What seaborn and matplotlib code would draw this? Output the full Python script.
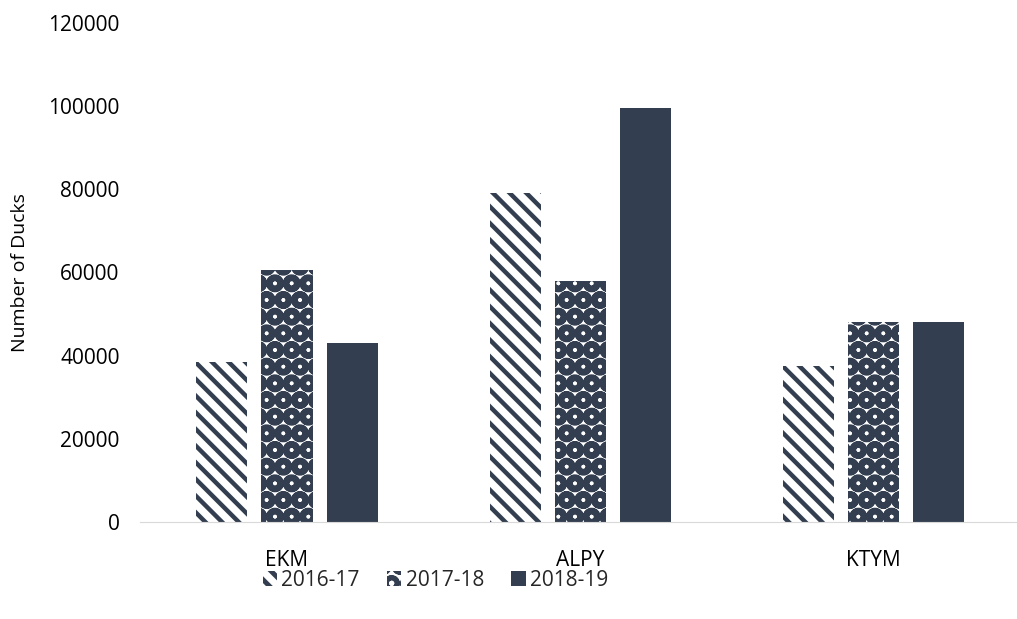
import pandas as pd
import matplotlib.pyplot as plt
import seaborn as sns
from matplotlib.patches import Patch

# Values
districts = ['EKM', 'ALPY', 'KTYM']
seasons = ['2016-17', '2017-18', '2018-19']
ducks_2016_17 = [38500, 79000, 37500]
ducks_2017_18 = [60500, 58000, 48000]
ducks_2018_19 = [43000, 99500, 48000]

data = pd.DataFrame({
    'District': districts * 3,
    'Season': [s for s in seasons for _ in districts],
    'Ducks': ducks_2016_17 + ducks_2017_18 + ducks_2018_19,
})

sns.set_style('white')
plt.rcParams['font.family'] = ['Open Sans', 'DejaVu Sans']
plt.rcParams['hatch.linewidth'] = 3.5

dark = '#333f50'
fig = plt.figure(figsize=(10.17, 6.19), dpi=100)
ax = fig.add_axes([0.138, 0.157, 0.865, 0.806])

sns.barplot(data=data, x='District', y='Ducks', hue='Season', order=districts,
            hue_order=seasons, palette=[dark] * 3, width=0.666, gap=0.215,
            ax=ax, legend=False)

# pattern fills like the original (stripes, dots, solid)
hatches = ['\\\\', 'O', '']
hatch_lw = [3.2, 4.5, 0]


def style_patch(p, h, lw):
    p.set_linewidth(0)
    p.set_edgecolor(dark)
    if h:
        p.set_facecolor('white')
        p.set_hatch(h)
        if hasattr(p, 'set_hatch_linewidth'):
            p.set_hatch_linewidth(lw)
    else:
        p.set_facecolor(dark)


for container, h, lw in zip(ax.containers, hatches, hatch_lw):
    for bar in container:
        style_patch(bar, h, lw)

ax.set_ylim(0, 120000)
ax.set_yticks(range(0, 120001, 20000))
ax.set_xlim(-0.5, 2.5)
ax.set_xlabel('')
ax.set_ylabel('Number of Ducks', fontsize=14, color='#000000')
ax.yaxis.set_label_coords(-0.127, 0.5)
ax.tick_params(axis='both', labelsize=15, colors='#000000', length=0)
ax.tick_params(axis='x', pad=20)
ax.tick_params(axis='y', pad=15)
for side in ['top', 'right', 'left']:
    ax.spines[side].set_visible(False)
ax.spines['bottom'].set_color('#d9d9d9')

handles = []
for h, lw in zip(hatches, hatch_lw):
    p = Patch()
    style_patch(p, h, lw)
    handles.append(p)
fig.legend(handles, seasons, loc='center', bbox_to_anchor=(0.428, 0.063), ncol=3,
           frameon=False, fontsize=15, handlelength=0.7, handleheight=0.7,
           handletextpad=0.2, columnspacing=1.3)

plt.savefig('out.png', dpi=100)
